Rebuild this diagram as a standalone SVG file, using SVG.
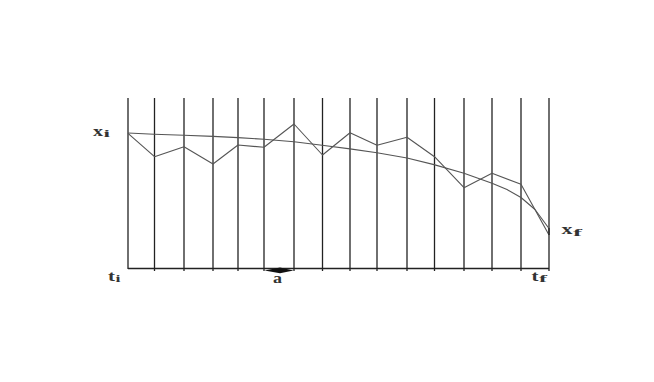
<svg xmlns="http://www.w3.org/2000/svg" width="654" height="382" viewBox="0 0 654 382">
<style>
.grid{stroke:#222;stroke-width:1.3;fill:none}
.path{stroke:#555;stroke-width:1.1;fill:none;stroke-linejoin:round}
.lbl{font-family:"Liberation Serif",serif;fill:#333;font-weight:bold}
.main{font-size:14px}
.sub{font-size:10.5px}
</style>
<rect width="654" height="382" fill="#fff"/>
<g id="grid">
<line class="grid" x1="128" y1="98" x2="128" y2="269"/>
<line class="grid" x1="154.5" y1="98" x2="154.5" y2="271"/>
<line class="grid" x1="184" y1="98" x2="184" y2="271"/>
<line class="grid" x1="213" y1="98" x2="213" y2="271"/>
<line class="grid" x1="238" y1="98" x2="238" y2="271"/>
<line class="grid" x1="264" y1="98" x2="264" y2="271"/>
<line class="grid" x1="294" y1="98" x2="294" y2="271"/>
<line class="grid" x1="322.5" y1="98" x2="322.5" y2="271"/>
<line class="grid" x1="350" y1="98" x2="350" y2="271"/>
<line class="grid" x1="377" y1="98" x2="377" y2="271"/>
<line class="grid" x1="407" y1="98" x2="407" y2="271"/>
<line class="grid" x1="434.5" y1="98" x2="434.5" y2="271"/>
<line class="grid" x1="464" y1="98" x2="464" y2="271"/>
<line class="grid" x1="492" y1="98" x2="492" y2="271"/>
<line class="grid" x1="521" y1="98" x2="521" y2="271"/>
<line class="grid" x1="549" y1="98" x2="549" y2="271"/>
<line class="grid" x1="128" y1="268.5" x2="549" y2="268.5"/>
</g>
<g id="connectors">
<polyline id="smooth" class="path" points="128,133 154,134.3 184,135.3 213,136.4 238,137.6 264,139.3 294,141.8 322,145.3 350,148.9 377,152.7 407,158 434,164.6 464,173.3 492,183.3 507,189.6 521,197.5 535,209.5 549,228.5"/>
<polyline id="jagged" class="path" points="128,133.3 154.5,156.7 184,146.7 213,164 238,145 264,147.3 294,124 322.5,155 350,132.7 377,145.3 407,137.3 434.5,156.7 464,187.7 492,173.3 521,184.3 549,235"/>
<line class="grid" x1="549" y1="228" x2="549" y2="235" stroke-width="2.2"/>
<polygon id="arrow-a" points="264.5,270.5 280,267.6 293.5,270.5 280,273.2" fill="#111"/>
</g>
<g id="labels">
<text class="lbl main" x="93" y="135.7" textLength="10" lengthAdjust="spacingAndGlyphs">x</text>
<text class="lbl sub" x="103.5" y="137.3" textLength="6.5" lengthAdjust="spacingAndGlyphs">i</text>
<text class="lbl main" x="108" y="281" textLength="7" lengthAdjust="spacingAndGlyphs">t</text>
<text class="lbl sub" x="115.5" y="282.3" textLength="5" lengthAdjust="spacingAndGlyphs">i</text>
<text class="lbl main" x="273" y="283.3" textLength="9" lengthAdjust="spacingAndGlyphs">a</text>
<text class="lbl main" x="531.5" y="281" textLength="7" lengthAdjust="spacingAndGlyphs">t</text>
<text class="lbl sub" x="539" y="282.3" textLength="8" lengthAdjust="spacingAndGlyphs">f</text>
<text class="lbl main" x="561.5" y="234.3" textLength="11" lengthAdjust="spacingAndGlyphs">x</text>
<text class="lbl sub" x="573" y="236" textLength="9" lengthAdjust="spacingAndGlyphs">f</text>
</g>
</svg>
